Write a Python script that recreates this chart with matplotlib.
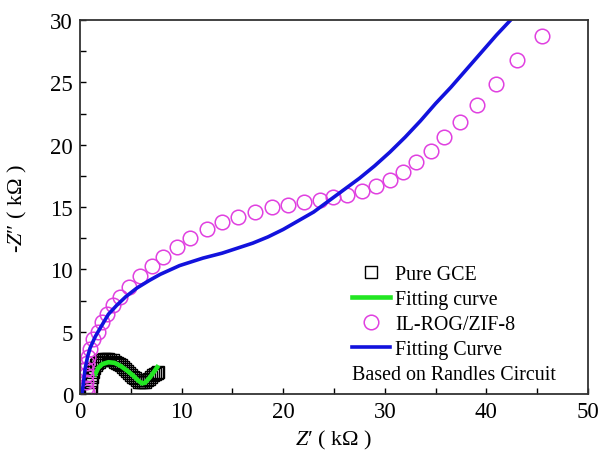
import matplotlib
matplotlib.use("Agg")
import matplotlib.pyplot as plt
from matplotlib.ticker import MultipleLocator

plt.rcParams['font.family'] = ['Liberation Serif', 'DejaVu Serif']
plt.rcParams['mathtext.fontset'] = 'custom'
plt.rcParams['mathtext.rm'] = 'Liberation Serif'
plt.rcParams['mathtext.it'] = 'Liberation Serif:italic'

# Pure GCE (squares), kOhm
gce_x = [1.0, 1.05, 1.1, 1.2, 1.3, 1.4, 1.55, 1.7, 1.85, 2.0, 2.2, 2.4, 2.6, 2.8, 3.0, 3.2,
         3.4, 3.6, 3.8, 4.0, 4.2, 4.4, 4.6, 4.8, 5.0, 5.2, 5.4, 5.6, 5.8, 6.0, 6.2, 6.4,
         6.6, 6.8, 7.0, 7.2, 7.4, 7.6, 7.7]
gce_y = [0.2, 0.6, 1.0, 1.4, 1.75, 2.05, 2.3, 2.5, 2.6, 2.7, 2.75, 2.8, 2.8, 2.8, 2.75, 2.7,
         2.6, 2.5, 2.4, 2.3, 2.15, 2.0, 1.85, 1.7, 1.55, 1.4, 1.25, 1.1, 1.0, 0.95, 0.95, 1.0,
         1.1, 1.2, 1.35, 1.5, 1.6, 1.7, 1.8]

# Fitting curve for Pure GCE
gce_fit_x = [1.5, 1.8, 2.2, 2.8, 3.4, 4.0, 4.6, 5.2, 5.7, 6.1, 6.4, 6.9, 7.3, 7.6]
gce_fit_y = [1.6, 2.1, 2.4, 2.55, 2.5, 2.25, 1.9, 1.5, 1.1, 0.85, 0.9, 1.35, 1.8, 2.15]

# IL-ROG/ZIF-8 (circles)
zif_x = [0.7, 0.6, 0.55, 0.55, 0.6, 0.7, 0.8, 1.0, 1.3, 1.8, 2.2, 2.7, 3.2, 3.9, 4.8, 5.9,
         7.1, 8.2, 9.5, 10.8, 12.5, 14.0, 15.6, 17.2, 18.9, 20.5, 22.0, 23.6, 24.9, 26.3,
         27.8, 29.1, 30.5, 31.8, 33.1, 34.5, 35.8, 37.4, 39.1, 40.9, 43.0, 45.5]
zif_y = [0.15, 0.5, 1.0, 1.5, 2.0, 2.5, 3.0, 3.6, 4.4, 5.0, 5.8, 6.4, 7.1, 7.8, 8.6, 9.5,
         10.3, 11.0, 11.8, 12.5, 13.2, 13.8, 14.2, 14.6, 15.0, 15.2, 15.4, 15.6, 15.8, 16.0,
         16.3, 16.7, 17.2, 17.8, 18.6, 19.5, 20.6, 21.8, 23.2, 24.9, 26.8, 28.7]

# Fitting curve for IL-ROG/ZIF-8
zif_fit_x = [0.2, 0.35, 0.5, 0.75, 1.0, 1.5, 2.0, 2.8, 3.6, 4.5, 5.6, 6.8, 7.9, 9.8, 12.1,
             14.0, 15.5, 17.0, 18.5, 20.0, 21.5, 23.0, 24.5, 26.0, 27.5, 29.0, 30.5, 32.0,
             33.5, 35.0, 36.5, 38.0, 39.5, 41.0, 42.5]
zif_fit_y = [0.0, 1.0, 2.0, 3.0, 3.7, 4.6, 5.3, 6.4, 7.1, 7.8, 8.5, 9.1, 9.6, 10.3, 10.9,
             11.3, 11.7, 12.1, 12.6, 13.2, 13.9, 14.6, 15.5, 16.4, 17.3, 18.3, 19.4, 20.6,
             21.9, 23.3, 24.6, 26.0, 27.4, 28.8, 30.1]

fig = plt.figure(figsize=(6.02, 4.52), dpi=100)
ax = fig.add_axes([80/602, 1-395/452, 508/602, 374/452])

ax.plot(gce_x, gce_y, 's', mfc='none', mec='black', ms=8, mew=1.0, label='Pure GCE')
ax.plot(gce_fit_x, gce_fit_y, '-', color='#22E622', lw=3.3, label='Fitting curve')
ax.plot(zif_x, zif_y, 'o', mfc='none', mec='#E040E0', ms=10.5, mew=1.1, label='IL-ROG/ZIF-8')
ax.plot(zif_fit_x, zif_fit_y, '-', color='#1212DD', lw=2.6, label='Fitting Curve')

ax.set_xlim(0, 50)
ax.set_ylim(0, 30)
ax.xaxis.set_major_locator(MultipleLocator(10))
ax.xaxis.set_minor_locator(MultipleLocator(5))
ax.yaxis.set_major_locator(MultipleLocator(5))
ax.yaxis.set_minor_locator(MultipleLocator(2.5))
ax.tick_params(which='both', direction='in', length=4, width=1, labelsize=16.5, pad=5)
for s in ax.spines.values():
    s.set_linewidth(1.3)
    s.set_color('#333333')

ax.set_xlabel(r"$\it{Z}$′ ( kΩ )", fontsize=16, labelpad=4)
ax.set_ylabel(r"-$\it{Z}$″ ( kΩ )", fontsize=16, labelpad=15)

ax.legend(loc='upper left', bbox_to_anchor=((352-80)/508, (395-266)/374), frameon=False,
          fontsize=14.4, handlelength=1.9, handletextpad=0.25, labelspacing=0.3,
          borderpad=0, borderaxespad=0)
ax.text((352-80)/508, (395-376)/374, 'Based on Randles Circuit', transform=ax.transAxes,
        fontsize=14.4, va='center', ha='left')

fig.savefig('out.png', dpi=100)
